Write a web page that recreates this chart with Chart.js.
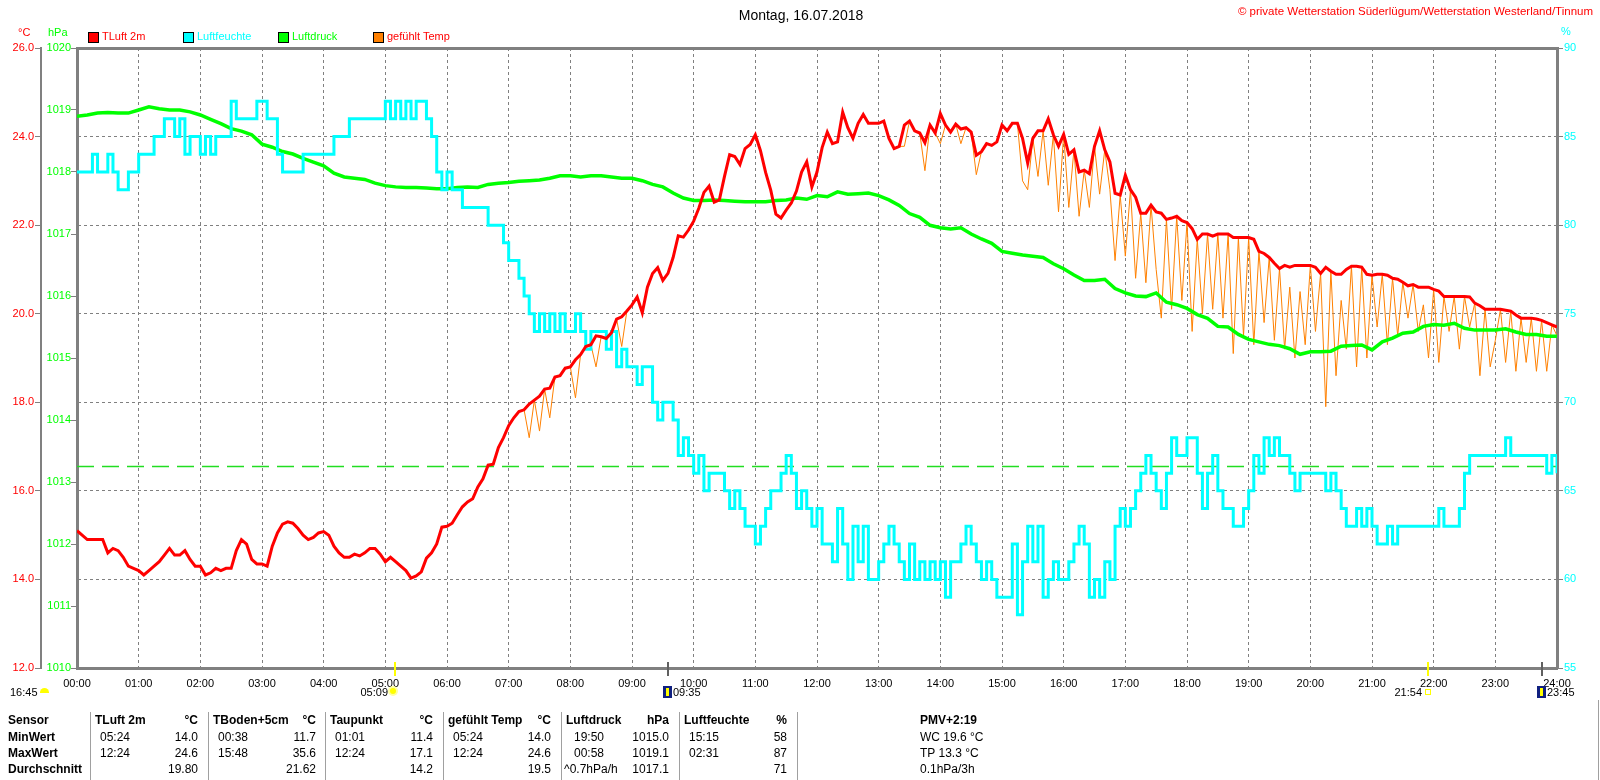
<!DOCTYPE html>
<html lang="de">
<head>
<meta charset="utf-8">
<title>Montag, 16.07.2018</title>
<script src="https://cdn.jsdelivr.net/npm/chart.js@4.4.1/dist/chart.umd.min.js"></script>
<style>
  html, body { margin: 0; padding: 0; background: #fff; }
  #wrap { position: relative; width: 1600px; height: 780px; overflow: hidden;
          font-family: 'Liberation Sans', Arial, sans-serif; }
  #wrap canvas { position: absolute; left: 0; top: 0; }
  .t { position: absolute; white-space: nowrap; font-size: 11px; line-height: 13px; }
  .box { position: absolute; width: 9px; height: 9px; border: 1px solid #000; }
  .sep { position: absolute; width: 0; border-left: 1px solid #a0a0a0; }
  .cell { position: absolute; white-space: nowrap; font-size: 12px; line-height: 14px; color: #000; }
  .b { font-weight: bold; }
  .r { text-align: right; }
</style>
</head>
<body>
<div id="wrap">
  <canvas id="chart" width="1600" height="780"></canvas>

  <div class="t" style="left:0;width:1602px;top:7px;text-align:center;font-size:14px;line-height:16px;">Montag, 16.07.2018</div>
  <div class="t" style="right:7px;top:5px;color:#ff0000;font-size:11.5px;">© private Wetterstation Süderlügum/Wetterstation Westerland/Tinnum</div>

  <div class="t" style="left:18px;top:26px;color:#ff0000;">°C</div>
  <div class="t" style="left:48px;top:26px;color:#00ff00;">hPa</div>
  <div class="t" style="left:1561px;top:25px;color:#00ffff;">%</div>
</div>

<script>
/* --- DATA --- */
const STEP_T = 5;    // minutes between samples (temperature, humidity)
const STEP_P = 10;   // minutes between samples (pressure)

// TLuft 2m, one row per hour
const tLuft = [
  15.1,15.0,14.9,14.9,14.9,14.9,14.6,14.7,14.65,14.5,14.3,14.25,
  14.2,14.1,14.2,14.3,14.4,14.55,14.7,14.55,14.55,14.65,14.45,14.3,
  14.3,14.1,14.15,14.25,14.2,14.25,14.25,14.65,14.9,14.8,14.45,14.35,
  14.35,14.3,14.75,15.05,15.25,15.3,15.27,15.15,15.0,14.9,14.95,15.05,
  15.08,15.0,14.75,14.6,14.5,14.5,14.57,14.53,14.6,14.7,14.7,14.57,
  14.4,14.5,14.4,14.3,14.2,14.03,14.08,14.17,14.48,14.6,14.8,15.18,
  15.2,15.27,15.46,15.64,15.75,15.82,16.09,16.27,16.58,16.6,16.98,17.2,
  17.47,17.65,17.79,17.83,17.96,18.05,18.14,18.3,18.32,18.57,18.6,18.77,
  18.8,18.96,19.08,19.26,19.3,19.5,19.48,19.44,19.57,19.88,19.93,20.06,
  20.2,20.38,20.02,20.6,20.91,21.04,20.75,20.91,21.27,21.76,21.73,21.89,
  22.09,22.38,22.74,22.88,22.52,22.57,23.1,23.59,23.55,23.37,23.73,23.82,
  24.04,23.68,23.19,22.79,22.25,22.16,22.34,22.5,22.77,23.2,23.43,22.86,
  23.2,23.75,24.1,23.84,23.88,24.55,24.2,23.96,24.3,24.5,24.3,24.3,
  24.3,24.35,23.96,23.73,23.78,24.26,24.35,24.13,24.08,23.86,24.26,24.08,
  24.52,24.26,24.1,24.28,24.17,24.2,24.1,23.58,23.66,23.84,23.8,23.88,
  24.26,24.13,24.3,24.3,23.96,23.4,23.96,24.13,24.13,24.4,24.04,23.78,
  24.05,23.6,23.7,23.2,23.24,23.16,23.78,24.13,23.7,23.43,22.72,22.68,
  23.13,22.8,22.63,22.27,22.27,22.45,22.3,22.27,22.13,22.16,22.2,22.1,
  22.06,21.92,21.68,21.8,21.8,21.75,21.8,21.8,21.8,21.72,21.72,21.72,
  21.72,21.68,21.41,21.36,21.27,21.14,21.02,21.09,21.05,21.09,21.09,21.09,
  21.09,21.05,20.91,21.05,20.96,20.89,20.89,21.0,21.07,21.07,21.05,20.89,
  20.87,20.89,20.89,20.87,20.8,20.78,20.71,20.63,20.66,20.6,20.6,20.6,
  20.55,20.51,20.39,20.39,20.39,20.39,20.39,20.38,20.24,20.18,20.1,20.1,
  20.1,20.1,20.08,20.06,19.97,19.9,19.9,19.9,19.88,19.85,19.8,19.75,
  19.7
];

// gefühlt Temp (dips below the air temperature when windy)
const gefuehlt = [
  15.1,15.0,14.9,14.9,14.9,14.9,14.6,14.7,14.65,14.5,14.3,14.25,
  14.2,14.1,14.2,14.3,14.4,14.55,14.7,14.55,14.55,14.65,14.45,14.3,
  14.3,14.1,14.15,14.25,14.2,14.25,14.25,14.65,14.9,14.8,14.45,14.35,
  14.35,14.3,14.75,15.05,15.25,15.3,15.27,15.15,15.0,14.9,14.95,15.05,
  15.08,15.0,14.75,14.6,14.5,14.5,14.57,14.53,14.6,14.7,14.7,14.57,
  14.4,14.5,14.4,14.3,14.2,14.03,14.08,14.17,14.48,14.6,14.8,15.18,
  15.2,15.27,15.46,15.64,15.75,15.82,16.09,16.27,16.58,16.6,16.98,17.2,
  17.47,17.65,17.79,17.83,17.2,18.05,17.35,18.3,17.65,18.57,18.6,18.77,
  18.8,18.1,19.08,19.26,19.3,18.8,19.48,19.44,19.57,19.88,19.26,20.06,
  20.2,20.38,20.02,20.6,20.91,21.04,20.75,20.91,21.27,21.76,21.73,21.89,
  22.09,22.38,22.74,22.88,22.52,22.57,23.1,23.59,23.55,23.37,23.73,23.82,
  24.04,23.68,23.19,22.79,22.25,22.16,22.34,22.5,22.77,23.2,23.43,22.86,
  23.2,23.75,24.1,23.84,23.88,24.55,24.2,23.96,24.3,24.5,24.3,24.3,
  24.3,24.35,23.96,23.73,23.78,23.78,24.35,24.13,24.08,23.23,24.26,24.08,
  23.84,24.26,24.1,24.28,23.84,24.2,24.1,23.14,23.66,23.84,23.8,23.88,
  24.26,24.13,24.3,24.3,23.0,22.8,23.96,23.1,24.13,22.9,24.04,22.3,
  24.05,22.4,23.7,22.2,23.24,22.4,23.78,22.7,23.7,22.8,21.2,22.68,
  21.3,22.8,20.8,22.27,20.7,22.45,21.0,19.9,22.13,20.1,22.2,20.3,
  22.06,19.6,21.68,20.0,21.8,20.1,21.8,19.9,21.8,19.1,21.72,19.5,
  21.72,19.3,21.41,19.8,21.27,19.4,21.02,19.2,20.6,19.0,20.5,19.3,
  21.09,19.6,20.91,17.9,20.96,18.6,20.3,19.2,21.07,18.8,21.05,19.0,
  20.87,19.7,20.89,19.3,20.8,19.5,20.71,19.9,20.66,19.6,20.2,19.0,
  20.55,18.9,20.39,19.6,20.39,19.2,20.39,19.7,20.24,18.6,20.1,18.8,
  19.4,20.1,18.9,20.06,18.7,19.9,18.9,19.9,18.7,19.85,18.7,19.75,
  19.5
];

// Luftfeuchte in %
const feuchte = [
  83,83,83,84,83,83,84,83,82,82,83,83,
  84,84,84,85,85,86,86,85,86,84,85,85,
  84,85,84,85,85,85,87,86,86,86,86,87,
  87,86,86,84,83,83,83,83,84,84,84,84,
  84,84,85,85,85,86,86,86,86,86,86,86,
  87,86,87,86,87,86,87,87,86,85,83,82,
  83,82,82,81,81,81,81,81,80,80,80,79,
  78,78,77,76,75,74,75,74,75,74,75,74,
  74,75,74,73,74,74,74,73,74,72,73,72,
  72,71,72,72,70,69,70,70,69,67,68,67,
  66,67,65,66,66,66,65,64,65,64,63,63,
  62,63,64,65,65,66,67,66,64,65,64,63,
  64,62,62,61,64,62,60,63,61,63,60,60,
  61,62,63,62,61,60,62,60,61,60,61,60,
  61,59,61,61,62,63,62,61,60,61,60,59,
  59,59,62,58,61,63,61,63,59,60,61,60,
  60,61,62,63,62,59,60,59,61,60,63,64,
  63,64,65,66,67,66,65,64,66,68,67,67,
  68,68,66,64,66,67,65,64,64,63,63,64,
  65,67,66,68,67,68,67,67,66,65,66,66,
  66,66,66,65,66,65,64,63,63,64,63,64,
  63,62,62,63,62,63,63,63,63,63,63,63,
  63,64,63,63,63,64,66,67,67,67,67,67,
  67,67,68,67,67,67,67,67,67,67,66,67,
  66
];

// Luftdruck in hPa, 10-minute values
const druck = [
  1018.90,1018.92,1018.95,1018.96,1018.95,1018.95,
  1019.00,1019.05,1019.02,1019.00,1019.00,1018.97,
  1018.92,1018.85,1018.78,1018.70,1018.66,1018.60,
  1018.45,1018.40,1018.33,1018.29,1018.22,1018.16,
  1018.10,1017.98,1017.92,1017.90,1017.88,1017.82,
  1017.78,1017.76,1017.75,1017.75,1017.74,1017.73,
  1017.73,1017.75,1017.76,1017.75,1017.80,1017.82,
  1017.83,1017.85,1017.86,1017.87,1017.90,1017.94,
  1017.94,1017.92,1017.94,1017.94,1017.92,1017.90,
  1017.90,1017.86,1017.80,1017.76,1017.66,1017.58,
  1017.54,1017.54,1017.55,1017.54,1017.53,1017.52,
  1017.52,1017.52,1017.54,1017.55,1017.58,1017.56,
  1017.62,1017.60,1017.68,1017.64,1017.65,1017.66,
  1017.62,1017.55,1017.46,1017.33,1017.27,1017.14,
  1017.10,1017.08,1017.10,1017.00,1016.92,1016.85,
  1016.72,1016.69,1016.66,1016.64,1016.62,1016.52,
  1016.44,1016.34,1016.25,1016.25,1016.27,1016.12,
  1016.05,1016.00,1015.99,1016.05,1015.90,1015.86,
  1015.80,1015.70,1015.64,1015.51,1015.50,1015.38,
  1015.30,1015.26,1015.22,1015.20,1015.15,1015.06,
  1015.10,1015.10,1015.11,1015.19,1015.20,1015.21,
  1015.13,1015.26,1015.32,1015.40,1015.42,1015.51,
  1015.54,1015.53,1015.56,1015.48,1015.45,1015.45,
  1015.45,1015.47,1015.42,1015.38,1015.38,1015.35,
  1015.35
];

const normDruck = 1013.25;  // dashed reference line

// sunrise / moon markers under the time axis
const markerTimes  = ['05:09', '09:35', '21:54', '23:45'];
const markerColors = ['#ffff00', '#606060', '#ffff00', '#606060'];

// statistics table
const statHeads = ['TLuft 2m', 'TBoden+5cm', 'Taupunkt', 'gefühlt Temp', 'Luftdruck', 'Luftfeuchte'];
const statUnits = ['°C', '°C', '°C', '°C', 'hPa', '%'];
const minTimes  = ['05:24', '00:38', '01:01', '05:24', '19:50', '15:15'];
const minVals   = ['14.0', '11.7', '11.4', '14.0', '1015.0', '58'];
const maxTimes  = ['12:24', '15:48', '12:24', '12:24', '00:58', '02:31'];
const maxVals   = ['24.6', '35.6', '17.1', '24.6', '1019.1', '87'];
const avgNotes  = ['', '', '', '', '^0.7hPa/h', ''];
const avgVals   = ['19.80', '21.62', '14.2', '19.5', '1017.1', '71'];
const extraInfo = ['PMV+2:19', 'WC 19.6 °C', 'TP 13.3 °C', '0.1hPa/3h'];

/* --- HELPERS --- */
const toPoints = (arr, step) => arr.map((v, i) => ({ x: i * step, y: v }));
const hhmm = m => String(Math.floor(m / 60)).padStart(2, '0') + ':' + String(m % 60).padStart(2, '0');
const toMin = s => { const [h, m] = s.split(':').map(Number); return h * 60 + m; };

const GRID = '#808080';

/* --- OVERLAYS (legend, sun/moon labels, table) --- */
const wrap = document.getElementById('wrap');
function addEl(cls, style, text) {
    const el = document.createElement('div');
    el.className = cls;
    el.style.cssText = style;
    if (text !== undefined) el.textContent = text;
    wrap.appendChild(el);
    return el;
}

const legendItems = [
    ['TLuft 2m', '#ff0000', '#ff0000', 88],
    ['Luftfeuchte', '#00ffff', '#00ffff', 183],
    ['Luftdruck', '#00ff00', '#00ff00', 278],
    ['gefühlt Temp', '#ff8000', '#ff0000', 373]
];
legendItems.forEach(([label, fill, txt, x]) => {
    addEl('box', `left:${x}px;top:32px;background:${fill};`);
    addEl('t', `left:${x + 14}px;top:30px;color:${txt};`, label);
});

// sun / moon times under the axis
addEl('t', 'left:10px;top:686px;', '16:45');
addEl('', 'position:absolute;left:40px;top:688px;width:9px;height:5px;background:#ffff00;border-radius:5px 5px 0 0;');
addEl('t', 'right:1212px;top:686px;', '05:09');
addEl('', 'position:absolute;left:390px;top:688px;width:6px;height:6px;background:#ffff00;border-radius:50%;box-shadow:0 0 0 2px #ffffa0;');
addEl('', 'position:absolute;left:663px;top:686px;width:9px;height:12px;background:#102080;');
addEl('', 'position:absolute;left:666px;top:688px;width:3px;height:8px;background:#ffff00;');
addEl('t', 'left:673px;top:686px;', '09:35');
addEl('t', 'right:178px;top:686px;', '21:54');
addEl('', 'position:absolute;left:1425px;top:689px;width:4px;height:4px;border:1px solid #ffff00;');
addEl('', 'position:absolute;left:1537px;top:686px;width:9px;height:12px;background:#102080;');
addEl('', 'position:absolute;left:1540px;top:688px;width:3px;height:8px;background:#ffff00;');
addEl('t', 'left:1547px;top:686px;', '23:45');

// statistics table
const rowTop = [713, 730, 746, 762];
const colLeft = [90, 208, 325, 443, 561, 679];
const colW = 108;
['Sensor', 'MinWert', 'MaxWert', 'Durchschnitt'].forEach((s, r) =>
    addEl('cell b', `left:8px;top:${rowTop[r]}px;`, s));
colLeft.forEach((x, c) => {
    addEl('sep', `left:${x}px;top:712px;height:68px;`);
    addEl('cell b', `left:${x + 5}px;top:${rowTop[0]}px;`, statHeads[c]);
    addEl('cell b r', `left:${x}px;width:${colW}px;top:${rowTop[0]}px;`, statUnits[c]);
    const tx = x + (c === 4 ? 13 : 10);
    addEl('cell', `left:${tx}px;top:${rowTop[1]}px;`, minTimes[c]);
    addEl('cell r', `left:${x}px;width:${colW}px;top:${rowTop[1]}px;`, minVals[c]);
    addEl('cell', `left:${tx}px;top:${rowTop[2]}px;`, maxTimes[c]);
    addEl('cell r', `left:${x}px;width:${colW}px;top:${rowTop[2]}px;`, maxVals[c]);
    if (avgNotes[c]) addEl('cell', `left:${x + 3}px;top:${rowTop[3]}px;`, avgNotes[c]);
    addEl('cell r', `left:${x}px;width:${colW}px;top:${rowTop[3]}px;`, avgVals[c]);
});
addEl('sep', 'left:797px;top:712px;height:68px;');
addEl('sep', 'left:1598px;top:700px;height:80px;');
extraInfo.forEach((s, r) => addEl('cell' + (r === 0 ? ' b' : ''), `left:920px;top:${rowTop[r]}px;`, s));

/* --- CHART --- */
Chart.defaults.font.family = "'Liberation Sans', Arial, sans-serif";
Chart.defaults.font.size = 11;

const markerPlugin = {
    id: 'sunMoonMarks',
    afterDraw(chart) {
        const { ctx, chartArea, scales } = chart;
        markerTimes.forEach((t, i) => {
            const px = Math.round(scales.x.getPixelForValue(toMin(t)));
            ctx.save();
            ctx.strokeStyle = markerColors[i];
            ctx.lineWidth = 2;
            ctx.beginPath();
            ctx.moveTo(px, chartArea.bottom - 6);
            ctx.lineTo(px, chartArea.bottom + 8);
            ctx.stroke();
            ctx.restore();
        });
    }
};

new Chart(document.getElementById('chart'), {
    type: 'line',
    data: {
        datasets: [
            { label: 'TLuft 2m', data: toPoints(tLuft, STEP_T), yAxisID: 'yT',
              borderColor: '#ff0000', borderWidth: 3, order: 1 },
            { label: 'Luftfeuchte', data: toPoints(feuchte, STEP_T), yAxisID: 'yH',
              borderColor: '#00ffff', borderWidth: 3, stepped: true, order: 2 },
            { label: 'Luftdruck', data: toPoints(druck, STEP_P), yAxisID: 'yP',
              borderColor: '#00ff00', borderWidth: 3.5, order: 3 },
            { label: 'gefühlt Temp', data: toPoints(gefuehlt, STEP_T), yAxisID: 'yT',
              borderColor: '#ff8000', borderWidth: 1, order: 4 },
            { label: 'Norm', data: [{ x: 0, y: normDruck }, { x: 1440, y: normDruck }], yAxisID: 'yP',
              borderColor: '#22dd22', borderWidth: 1.5, borderDash: [17, 8], order: 5 }
        ]
    },
    options: {
        responsive: false,
        animation: false,
        devicePixelRatio: 1,
        layout: { padding: 0 },
        elements: { point: { radius: 0 }, line: { tension: 0, fill: false } },
        plugins: { legend: { display: false }, tooltip: { enabled: false } },
        scales: {
            x: {
                type: 'linear', position: 'bottom', min: 0, max: 1440,
                afterFit: s => { s.height = 112; },
                ticks: { stepSize: 60, autoSkip: false, maxRotation: 0, color: '#000', padding: 9,
                         callback: v => hhmm(v) },
                grid: { color: GRID, lineWidth: 1, drawTicks: false },
                border: { display: true, color: GRID, width: 3, dash: [3, 3] }
            },
            xTop: {
                type: 'linear', position: 'top', min: 0, max: 1440,
                afterFit: s => { s.height = 48; },
                ticks: { display: false },
                grid: { drawOnChartArea: false, drawTicks: false },
                border: { display: true, color: GRID, width: 3 }
            },
            yT: {
                position: 'left', weight: 1, min: 12, max: 26,
                afterFit: s => { s.width = 41; },
                ticks: { stepSize: 2, color: '#ff0000', padding: 1, callback: v => v.toFixed(1) },
                grid: { color: GRID, lineWidth: 1, tickLength: 6, tickColor: GRID, tickBorderDash: [] },
                border: { display: true, color: GRID, width: 2, dash: [3, 3] }
            },
            yP: {
                position: 'left', weight: 0, min: 1010, max: 1020,
                afterFit: s => { s.width = 36; },
                ticks: { stepSize: 1, color: '#00ff00', padding: 0, callback: v => String(v) },
                grid: { drawOnChartArea: false, tickLength: 6, tickColor: GRID, color: GRID },
                border: { display: true, color: GRID, width: 3 }
            },
            yH: {
                position: 'right', min: 55, max: 90,
                afterFit: s => { s.width = 43; },
                ticks: { stepSize: 5, color: '#00ffff', padding: 1, callback: v => String(v) },
                grid: { drawOnChartArea: false, tickLength: 6, tickColor: GRID, color: GRID },
                border: { display: true, color: GRID, width: 3 }
            }
        }
    },
    plugins: [markerPlugin]
});
</script>
</body>
</html>
